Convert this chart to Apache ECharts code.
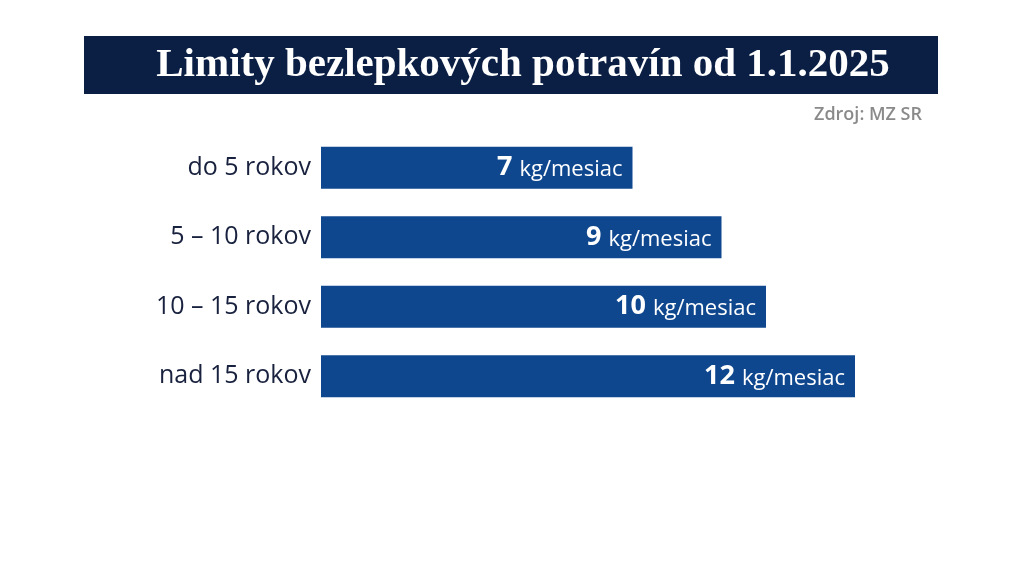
<!DOCTYPE html>
<html><head><meta charset="utf-8">
<script src="https://cdn.jsdelivr.net/npm/echarts@6/dist/echarts.min.js"></script>
<style>html,body{margin:0;padding:0;background:#fff}#c{width:1024px;height:576px}</style>
</head><body><div id="c"></div>
<script>
const categories = ['do 5 rokov', '5 – 10 rokov', '10 – 15 rokov', 'nad 15 rokov'];
const values = [7, 9, 10, 12];
const unit = 'kg/mesiac';
const titleText = 'Limity bezlepkových potravín od 1.1.2025';
const sourceText = 'Zdroj: MZ SR';

const chart = echarts.init(document.getElementById('c'));
chart.setOption({
  backgroundColor: '#ffffff',
  animation: false,
  graphic: [
    { type: 'rect', shape: { x: 84, y: 36, width: 854, height: 58 }, style: { fill: '#0b1f45' }, z: 0 },
    { type: 'text', x: 523, y: 65, style: { text: titleText, fill: '#ffffff', font: 'bold 41px "Liberation Serif"', align: 'center', verticalAlign: 'middle' }, z: 1 },
    { type: 'text', x: 922, y: 115, style: { text: sourceText, fill: '#8a8a8a', font: '600 18px "Open Sans"', align: 'right', verticalAlign: 'middle' }, z: 1 }
  ],
  grid: { left: 321, top: 133, width: 534, height: 278, containLabel: false },
  xAxis: { type: 'value', min: 0, max: 12, show: false },
  yAxis: {
    type: 'category', data: categories, inverse: true,
    axisLine: { show: false }, axisTick: { show: false },
    axisLabel: { color: '#18213d', fontSize: 25, fontWeight: 500, fontFamily: 'Open Sans', margin: 10 }
  },
  series: [{
    type: 'bar', data: values, barWidth: 42,
    itemStyle: { color: '#0f478f' },
    label: {
      show: true, position: 'insideRight', distance: 10,
      formatter: p => '{b|' + p.value + '}{u|' + unit + '}',
      rich: {
        b: { color: '#fff', fontSize: 27, fontWeight: 'bold', fontFamily: 'Open Sans' },
        u: { color: '#fff', fontSize: 22, fontWeight: 500, fontFamily: 'Open Sans', padding: [4, 0, 0, 7] }
      }
    }
  }]
});
</script></body></html>
